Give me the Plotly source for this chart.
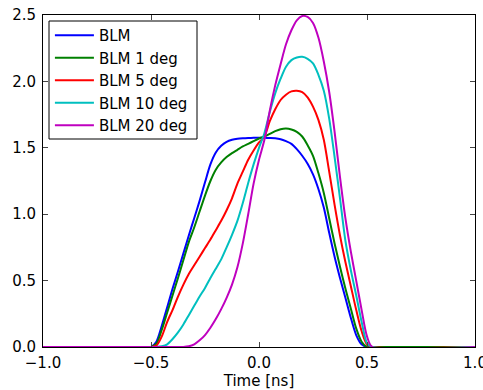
import plotly.graph_objects as go

# Time axis [ns]
time_ns = [-1.0, -0.5, -0.475, -0.45, -0.425, -0.4, -0.375, -0.35, -0.325, -0.3, -0.275,
           -0.25, -0.225, -0.2, -0.175, -0.15, -0.125, -0.1, -0.075, -0.05, -0.025,
           0.0, 0.025, 0.05, 0.075, 0.1, 0.125, 0.15, 0.175, 0.2, 0.225,
           0.25, 0.275, 0.3, 0.325, 0.35, 0.375, 0.4, 0.425, 0.45, 0.475,
           0.5, 0.525, 1.0]

blm = [0.0, 0.0, 0.04, 0.16, 0.30, 0.44, 0.57, 0.705, 0.84, 0.97, 1.10,
       1.24, 1.375, 1.465, 1.515, 1.545, 1.56, 1.568, 1.572, 1.574, 1.575,
       1.575, 1.575, 1.574, 1.572, 1.565, 1.55, 1.53, 1.49, 1.44, 1.38,
       1.30, 1.19, 1.05, 0.86, 0.68, 0.52, 0.37, 0.22, 0.09, 0.02,
       0.0, 0.0, 0.0]

blm_1deg = [0.0, 0.0, 0.025, 0.13, 0.26, 0.39, 0.52, 0.655, 0.79, 0.90, 1.02,
            1.14, 1.25, 1.335, 1.39, 1.43, 1.46, 1.485, 1.51, 1.53, 1.55,
            1.57, 1.585, 1.605, 1.625, 1.64, 1.645, 1.638, 1.62, 1.585, 1.52,
            1.44, 1.31, 1.16, 0.97, 0.78, 0.605, 0.44, 0.29, 0.14, 0.04,
            0.0, 0.0, 0.0]

blm_5deg = [0.0, 0.0, 0.01, 0.08, 0.19, 0.28, 0.38, 0.47, 0.55, 0.615, 0.68,
            0.745, 0.81, 0.88, 0.95, 1.03, 1.12, 1.23, 1.32, 1.41, 1.48,
            1.54, 1.585, 1.70, 1.79, 1.86, 1.90, 1.925, 1.93, 1.92, 1.88,
            1.81, 1.71, 1.56, 1.32, 1.07, 0.84, 0.64, 0.46, 0.28, 0.12,
            0.02, 0.0, 0.0]

blm_10deg = [0.0, 0.0, 0.0, 0.005, 0.02, 0.06, 0.11, 0.17, 0.24, 0.31, 0.38,
             0.445, 0.52, 0.59, 0.66, 0.75, 0.845, 0.95, 1.085, 1.235, 1.375,
             1.50, 1.61, 1.77, 1.91, 2.02, 2.11, 2.16, 2.18, 2.185, 2.17,
             2.135, 2.05, 1.93, 1.72, 1.43, 1.12, 0.80, 0.58, 0.39, 0.19,
             0.03, 0.0, 0.0]

blm_20deg = [0.0, 0.0, 0.0, 0.0, 0.0, 0.0, 0.0, 0.0, 0.005, 0.02, 0.05,
             0.09, 0.145, 0.21, 0.285, 0.37, 0.47, 0.60, 0.78, 1.00, 1.23,
             1.41, 1.56, 1.78, 1.97, 2.13, 2.28, 2.385, 2.46, 2.492, 2.485,
             2.44, 2.33, 2.15, 1.92, 1.62, 1.28, 0.97, 0.72, 0.50, 0.28,
             0.08, 0.0, 0.0]

series = [
    ("BLM", blm, "#0000ff"),
    ("BLM 1 deg", blm_1deg, "#008000"),
    ("BLM 5 deg", blm_5deg, "#ff0000"),
    ("BLM 10 deg", blm_10deg, "#00bfbf"),
    ("BLM 20 deg", blm_20deg, "#bf00bf"),
]

x_ticks = [-1.0, -0.5, 0.0, 0.5, 1.0]
y_ticks = [0.0, 0.5, 1.0, 1.5, 2.0, 2.5]

fig = go.Figure()
for name, vals, color in series:
    fig.add_trace(go.Scatter(x=time_ns, y=vals, mode="lines", name=name,
                             line=dict(color=color, width=2, shape="spline", smoothing=0.8)))

font = dict(family="DejaVu Sans", size=15, color="black")
axis_common = dict(showgrid=False, zeroline=False, showline=True, linecolor="black",
                   linewidth=1, mirror="ticks", ticks="inside", ticklen=5, tickwidth=1,
                   tickcolor="#444", tickfont=font, ticklabeloverflow="allow",
                   automargin=False)

# Legend frame (paper coordinates of the legend box)
fig.add_shape(type="rect", xref="paper", yref="paper",
              x0=0.0139, x1=0.3565, y0=0.6265, y1=0.9819,
              line=dict(color="black", width=1), fillcolor="white", layer="below")

fig.update_layout(
    width=483, height=390, autosize=False,
    margin=dict(l=43, r=8, t=15, b=43),
    paper_bgcolor="white", plot_bgcolor="white",
    font=font,
    showlegend=True,
    legend=dict(x=0.016, y=0.988, xanchor="left", yanchor="top",
                bgcolor="rgba(0,0,0,0)", borderwidth=0,
                font=font, tracegroupgap=0, itemwidth=39),
    xaxis=dict(range=[-1, 1], tickvals=x_ticks, tickformat=".1f",
               ticklabelstandoff=2,
               title=dict(text="Time [ns]", font=font, standoff=0), **axis_common),
    yaxis=dict(range=[0, 2.5], tickvals=y_ticks, tickformat=".1f",
               ticklabelstandoff=3, **axis_common),
)

fig.write_html(
    "out.html",
    config={"responsive": False, "displayModeBar": False},
    post_script="document.documentElement.style.margin='0';document.body.style.margin='0';"
                "document.documentElement.style.overflow='hidden';document.body.style.overflow='hidden';",
)
